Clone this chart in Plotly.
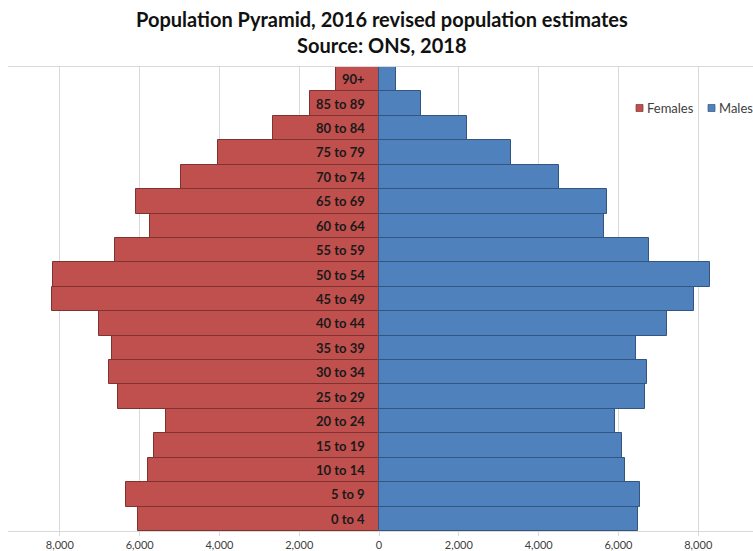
import plotly.graph_objects as go

# Age bands, bottom to top
age_groups = ["0 to 4", "5 to 9", "10 to 14", "15 to 19", "20 to 24", "25 to 29",
              "30 to 34", "35 to 39", "40 to 44", "45 to 49", "50 to 54", "55 to 59",
              "60 to 64", "65 to 69", "70 to 74", "75 to 79", "80 to 84", "85 to 89", "90+"]

females = [6040, 6350, 5790, 5630, 5330, 6540, 6760, 6700, 7010, 8190, 8160, 6630,
           5730, 6100, 4970, 4030, 2660, 1730, 1080]
males = [6500, 6540, 6170, 6100, 5910, 6670, 6710, 6440, 7220, 7900, 8290, 6760,
         5640, 5720, 4500, 3300, 2200, 1040, 430]

tick_values = [-8000, -6000, -4000, -2000, 0, 2000, 4000, 6000, 8000]
tick_text = ["8,000", "6,000", "4,000", "2,000", "0", "2,000", "4,000", "6,000", "8,000"]

FEMALE_COLOR = "#C0504D"
FEMALE_EDGE = "#7F3330"
MALE_COLOR = "#4F81BD"
MALE_EDGE = "#34557D"

W, H = 753, 551
M_L, M_R, M_T, M_B = 8, 0, 67, 20
PLOT_W = W - M_L - M_R
PLOT_H = H - M_T - M_B


def px_x(px):
    """Pixel column -> paper x."""
    return (px - M_L) / PLOT_W


def px_y(py):
    """Pixel row -> paper y."""
    return (H - M_B - py) / PLOT_H


fig = go.Figure()
fig.add_trace(go.Bar(
    y=age_groups, x=[-v for v in females], orientation="h", name="Females",
    marker=dict(color=FEMALE_COLOR, line=dict(color=FEMALE_EDGE, width=1)),
    customdata=females, hovertemplate="%{y}: %{customdata:,}<extra>Females</extra>",
))
fig.add_trace(go.Bar(
    y=age_groups, x=males, orientation="h", name="Males",
    marker=dict(color=MALE_COLOR, line=dict(color=MALE_EDGE, width=1)),
    hovertemplate="%{y}: %{x:,}<extra>Males</extra>",
))

# Age band labels sit just left of the centre line
annotations = [
    dict(x=0, y=g, xref="x", yref="y", text=g, showarrow=False, xanchor="right",
         xshift=-12, font=dict(family="Lato", size=13, color="#1a1a1a", weight="bold"))
    for g in age_groups
]

# Two-line title
TITLE_FONT = dict(family="Lato", size=20, color="#111111", weight="bold")
annotations += [
    dict(x=0.502, y=px_y(19), xref="paper", yref="paper", showarrow=False,
         text="Population Pyramid, 2016 revised population estimates",
         font=TITLE_FONT, xanchor="center", yanchor="middle"),
    dict(x=0.502, y=px_y(45), xref="paper", yref="paper", showarrow=False,
         text="Source: ONS, 2018",
         font=TITLE_FONT, xanchor="center", yanchor="middle"),
]

# Compact legend: small swatch followed closely by its label
legend_items = [("Females", FEMALE_COLOR, FEMALE_EDGE, 636),
                ("Males", MALE_COLOR, MALE_EDGE, 708)]
shapes = []
for label, fill, edge, x0 in legend_items:
    shapes.append(dict(type="rect", xref="paper", yref="paper",
                       x0=px_x(x0), x1=px_x(x0 + 7), y0=px_y(111.5), y1=px_y(104.5),
                       fillcolor=fill, line=dict(color=edge, width=0.7)))
    annotations.append(dict(x=px_x(x0 + 9), y=px_y(108), xref="paper", yref="paper",
                            text=label, showarrow=False, xanchor="left", yanchor="middle",
                            font=dict(family="Lato", size=13, color="#404040")))

fig.update_layout(
    width=W, height=H,
    margin=dict(l=M_L, r=M_R, t=M_T, b=M_B),
    paper_bgcolor="white", plot_bgcolor="white",
    barmode="relative", bargap=0,
    annotations=annotations,
    shapes=shapes,
    showlegend=False,
    xaxis=dict(
        range=[-9300, 9372], tickvals=tick_values, ticktext=tick_text,
        showgrid=True, gridcolor="#D9D9D9", gridwidth=1, zeroline=False,
        showline=True, linecolor="#D9D9D9", linewidth=1, mirror=True,
        ticks="outside", ticklen=4, tickcolor="#D9D9D9",
        tickfont=dict(family="Lato", size=11, color="#404040"),
    ),
    yaxis=dict(
        range=[-0.5, 18.5], showticklabels=False, showgrid=False, zeroline=False,
        showline=False, ticks="",
    ),
)

fig.write_html("out.html")
